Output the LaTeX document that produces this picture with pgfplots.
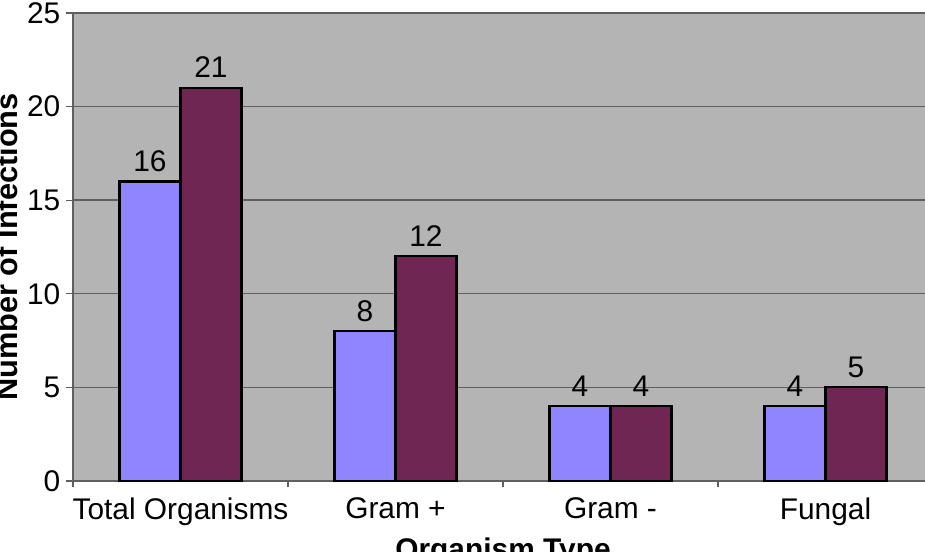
\documentclass[border=0pt]{standalone}
\usepackage{pgfplots}
\pgfplotsset{compat=1.18}
\usepackage{fontspec}
\setmainfont{Liberation Sans}
\definecolor{bgray}{RGB}{180,180,180}
\definecolor{gridc}{RGB}{95,95,95}
\definecolor{bluebar}{RGB}{143,134,255}
\definecolor{maroonbar}{RGB}{112,38,82}
\begin{document}
\begin{tikzpicture}
\useasboundingbox (-1.46,-1.42) rectangle (17.04,9.62);
\clip (-1.46,-1.42) rectangle (17.04,9.62);
\begin{axis}[
    scale only axis,
    width=17.2cm,
    height=9.36cm,
    ybar=0pt,
    bar width=1.22cm,
    xmin=-0.5, xmax=3.5,
    ymin=0, ymax=25,
    ytick={0,5,...,25},
    xtick={0,1,2,3},
    xticklabels={Total Organisms, Gram +, Gram -, Fungal},
    minor xtick={-0.5,0.5,1.5,2.5,3.5},
    major x tick style={draw=none},
    tick align=outside,
    major tick length=0.13cm,
    minor tick length=0.13cm,
    tick style={gridc, line width=0.7pt},
    axis x line*=bottom,
    axis y line*=left,
    axis line style={-, gridc, line width=0.9pt},
    ymajorgrids,
    major grid style={gridc, line width=0.8pt},
    axis background/.style={fill=bgray},
    tick label style={font=\fontsize{17}{20}\selectfont},
    xticklabel style={yshift=-0.08cm},
    /pgf/number format/assume math mode=true,
    xlabel={Organism Type},
    ylabel={Number of Infections},
    xlabel style={font=\fontsize{17}{20}\selectfont\bfseries, at={(axis description cs:0.5,0)}, anchor=base, yshift=-1.58cm},
    ylabel style={font=\fontsize{17.5}{20}\selectfont\bfseries, at={(axis description cs:0,0.5)}, anchor=base, yshift=1.12cm},
    nodes near coords,
    every node near coord/.append style={font=\fontsize{17}{20}\selectfont, black, yshift=0.06cm},
    clip=false,
]
\addplot[fill=bluebar, draw=black, line width=1.2pt] coordinates {(0,16) (1,8) (2,4) (3,4)};
\addplot[fill=maroonbar, draw=black, line width=1.2pt] coordinates {(0,21) (1,12) (2,4) (3,5)};
\end{axis}
\end{tikzpicture}
\end{document}
